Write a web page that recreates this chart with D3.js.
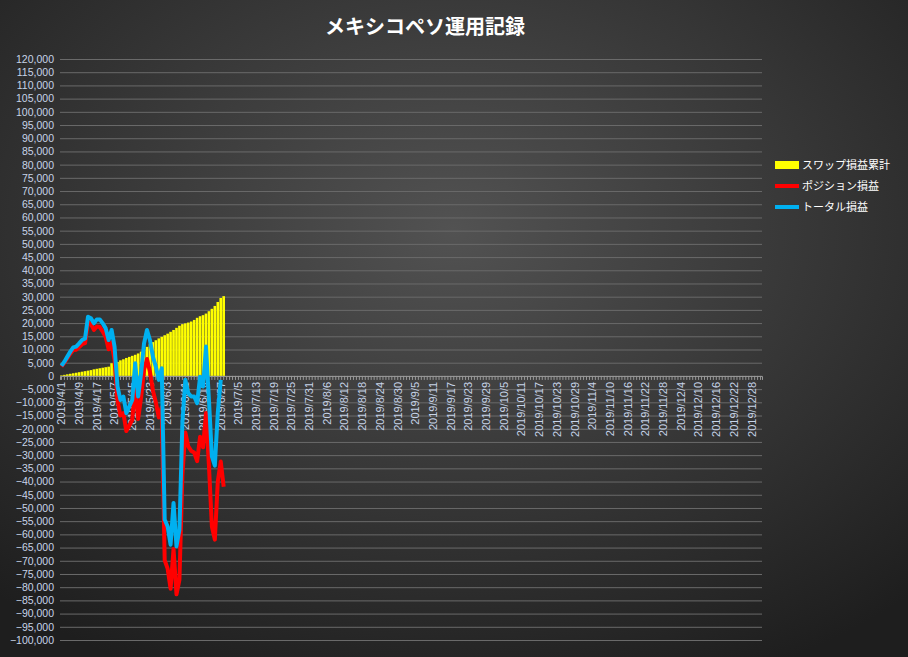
<!DOCTYPE html>
<html><head><meta charset="utf-8">
<script src="https://cdn.jsdelivr.net/npm/d3@7"></script>
<style>body{margin:0;background:#222}svg{display:block}</style></head>
<body><svg id="c" width="908" height="657"></svg>
<script>
const tickLabels=["2019/4/1","2019/4/9","2019/4/17","2019/5/7","2019/5/15","2019/5/23","2019/6/3","2019/6/11","2019/6/19","2019/6/27","2019/7/5","2019/7/13","2019/7/19","2019/7/25","2019/7/31","2019/8/6","2019/8/12","2019/8/18","2019/8/24","2019/8/30","2019/9/5","2019/9/11","2019/9/17","2019/9/23","2019/9/29","2019/10/5","2019/10/11","2019/10/17","2019/10/23","2019/10/29","2019/11/4","2019/11/10","2019/11/16","2019/11/22","2019/11/28","2019/12/4","2019/12/10","2019/12/16","2019/12/22","2019/12/28"];
const categoryCount=238;
const swap=[200,400,600,800,1000,1200,1400,1600,1800,2000,2200,2500,2700,2900,3100,3300,3500,4800,5000,5300,5900,6300,6800,7200,7600,8000,8500,9200,10000,11000,12000,12800,13500,14200,14800,15400,16000,16700,17400,18200,19000,19600,19900,20200,20600,21200,22000,22600,23000,23600,24500,25400,26500,28000,29500,30200];
const position=[3600,5000,6700,8400,9800,9900,10900,12000,12400,20400,19600,17400,18700,18500,16800,14700,10100,12600,6100,-9300,-15000,-14100,-20900,-18800,-16700,-3200,-16300,-8200,2300,6400,1600,-5500,-10000,-15700,-11900,-69800,-73000,-80600,-65500,-82700,-77200,-37500,-21400,-26700,-28400,-29000,-32300,-23000,-27000,-14000,-34000,-57000,-62000,-40000,-32400,-42000];
const total=[3800,5400,7300,9200,10800,11100,12300,13600,14200,22400,21800,19900,21400,21400,19900,18000,13600,17400,11100,-4000,-9100,-7800,-14100,-11600,-9100,4800,-7800,1000,12300,17400,13600,7300,3500,-1500,2900,-54400,-57000,-63900,-48100,-64500,-58200,-17900,-1500,-6500,-7800,-7800,-10300,-300,-4000,11100,-9100,-30500,-34000,-14000,-1500,null];
const seriesNames=["スワップ損益累計","ポジション損益","トータル損益"];
const colors=["#ffff00","#ff0000","#00b0f0"];

const svg=d3.select("#c");
const defs=svg.append("defs");
const g0=defs.append("radialGradient").attr("id","bg").attr("cx","50%").attr("cy","35%").attr("r","75%");
g0.append("stop").attr("offset","0%").attr("stop-color","#525252");
g0.append("stop").attr("offset","100%").attr("stop-color","#1e1e1e");
svg.append("rect").attr("width",908).attr("height",657).attr("fill","url(#bg)");
svg.append("text").attr("x",425).attr("y",34).attr("text-anchor","middle").attr("fill","#fff")
 .attr("font-family","Noto Sans CJK JP").attr("font-weight","bold").attr("font-size",20).text("メキシコペソ運用記録");

const L=60,R=762,T=59,B=640;
const x=d3.scaleBand().domain(d3.range(categoryCount)).range([L,R]).paddingInner(0.12).paddingOuter(0.05);
const y=d3.scaleLinear().domain([-100000,120000]).range([B,T]);
const yt=d3.range(-100000,120001,5000);
svg.append("g").selectAll("line").data(yt).join("line").attr("x1",L).attr("x2",R)
 .attr("y1",d=>y(d)+0.5).attr("y2",d=>y(d)+0.5).attr("stroke","#6a6a6a").attr("stroke-width",1);
const yAxis=svg.append("g").attr("transform",`translate(${L},0)`)
 .call(d3.axisLeft(y).tickValues(yt).tickSize(0).tickPadding(6).tickFormat(d3.format(",")));
yAxis.select(".domain").remove();
yAxis.selectAll("text").attr("fill","#c7d4e8").attr("font-family","Liberation Sans").attr("font-size",10.5);

svg.append("g").selectAll("rect").data(swap).join("rect")
 .attr("x",(d,i)=>x(i)).attr("width",x.bandwidth()).attr("y",d=>y(Math.max(0,d))).attr("height",d=>Math.abs(y(d)-y(0))).attr("fill",colors[0]);

const xAxis=svg.append("g").attr("transform",`translate(0,${y(0)})`)
 .call(d3.axisBottom(x).tickSize(4).tickFormat(i=>i%6===0?tickLabels[i/6]:""));
xAxis.select(".domain").attr("stroke","#999");
xAxis.selectAll("line").attr("stroke","#999");
xAxis.selectAll("text").attr("fill","#c7d4e8").attr("font-family","Liberation Sans").attr("font-size",11)
 .attr("transform","rotate(-90)").attr("text-anchor","end").attr("dx",0).attr("dy","0.35em").attr("y",0).attr("x",-6);

const line=d3.line().defined(d=>d!==null).x((d,i)=>x(i)+x.bandwidth()/2).y(d=>y(d));
[[position,colors[1]],[total,colors[2]]].forEach(([s,c])=>{
 svg.append("path").datum(s).attr("d",line).attr("fill","none").attr("stroke",c).attr("stroke-width",4).attr("stroke-linejoin","round");
});

const lg=svg.append("g").attr("transform","translate(775,165)");
seriesNames.forEach((n,i)=>{
 const gg=lg.append("g").attr("transform",`translate(0,${i*21})`);
 if(i===0) gg.append("rect").attr("x",0).attr("y",-4).attr("width",24).attr("height",8).attr("fill",colors[i]);
 else gg.append("line").attr("x1",0).attr("x2",24).attr("y1",0).attr("y2",0).attr("stroke",colors[i]).attr("stroke-width",4);
 gg.append("text").attr("x",27).attr("y",4).attr("fill","#fff").attr("font-family","Noto Sans CJK JP").attr("font-size",11).text(n);
});
</script></body></html>
